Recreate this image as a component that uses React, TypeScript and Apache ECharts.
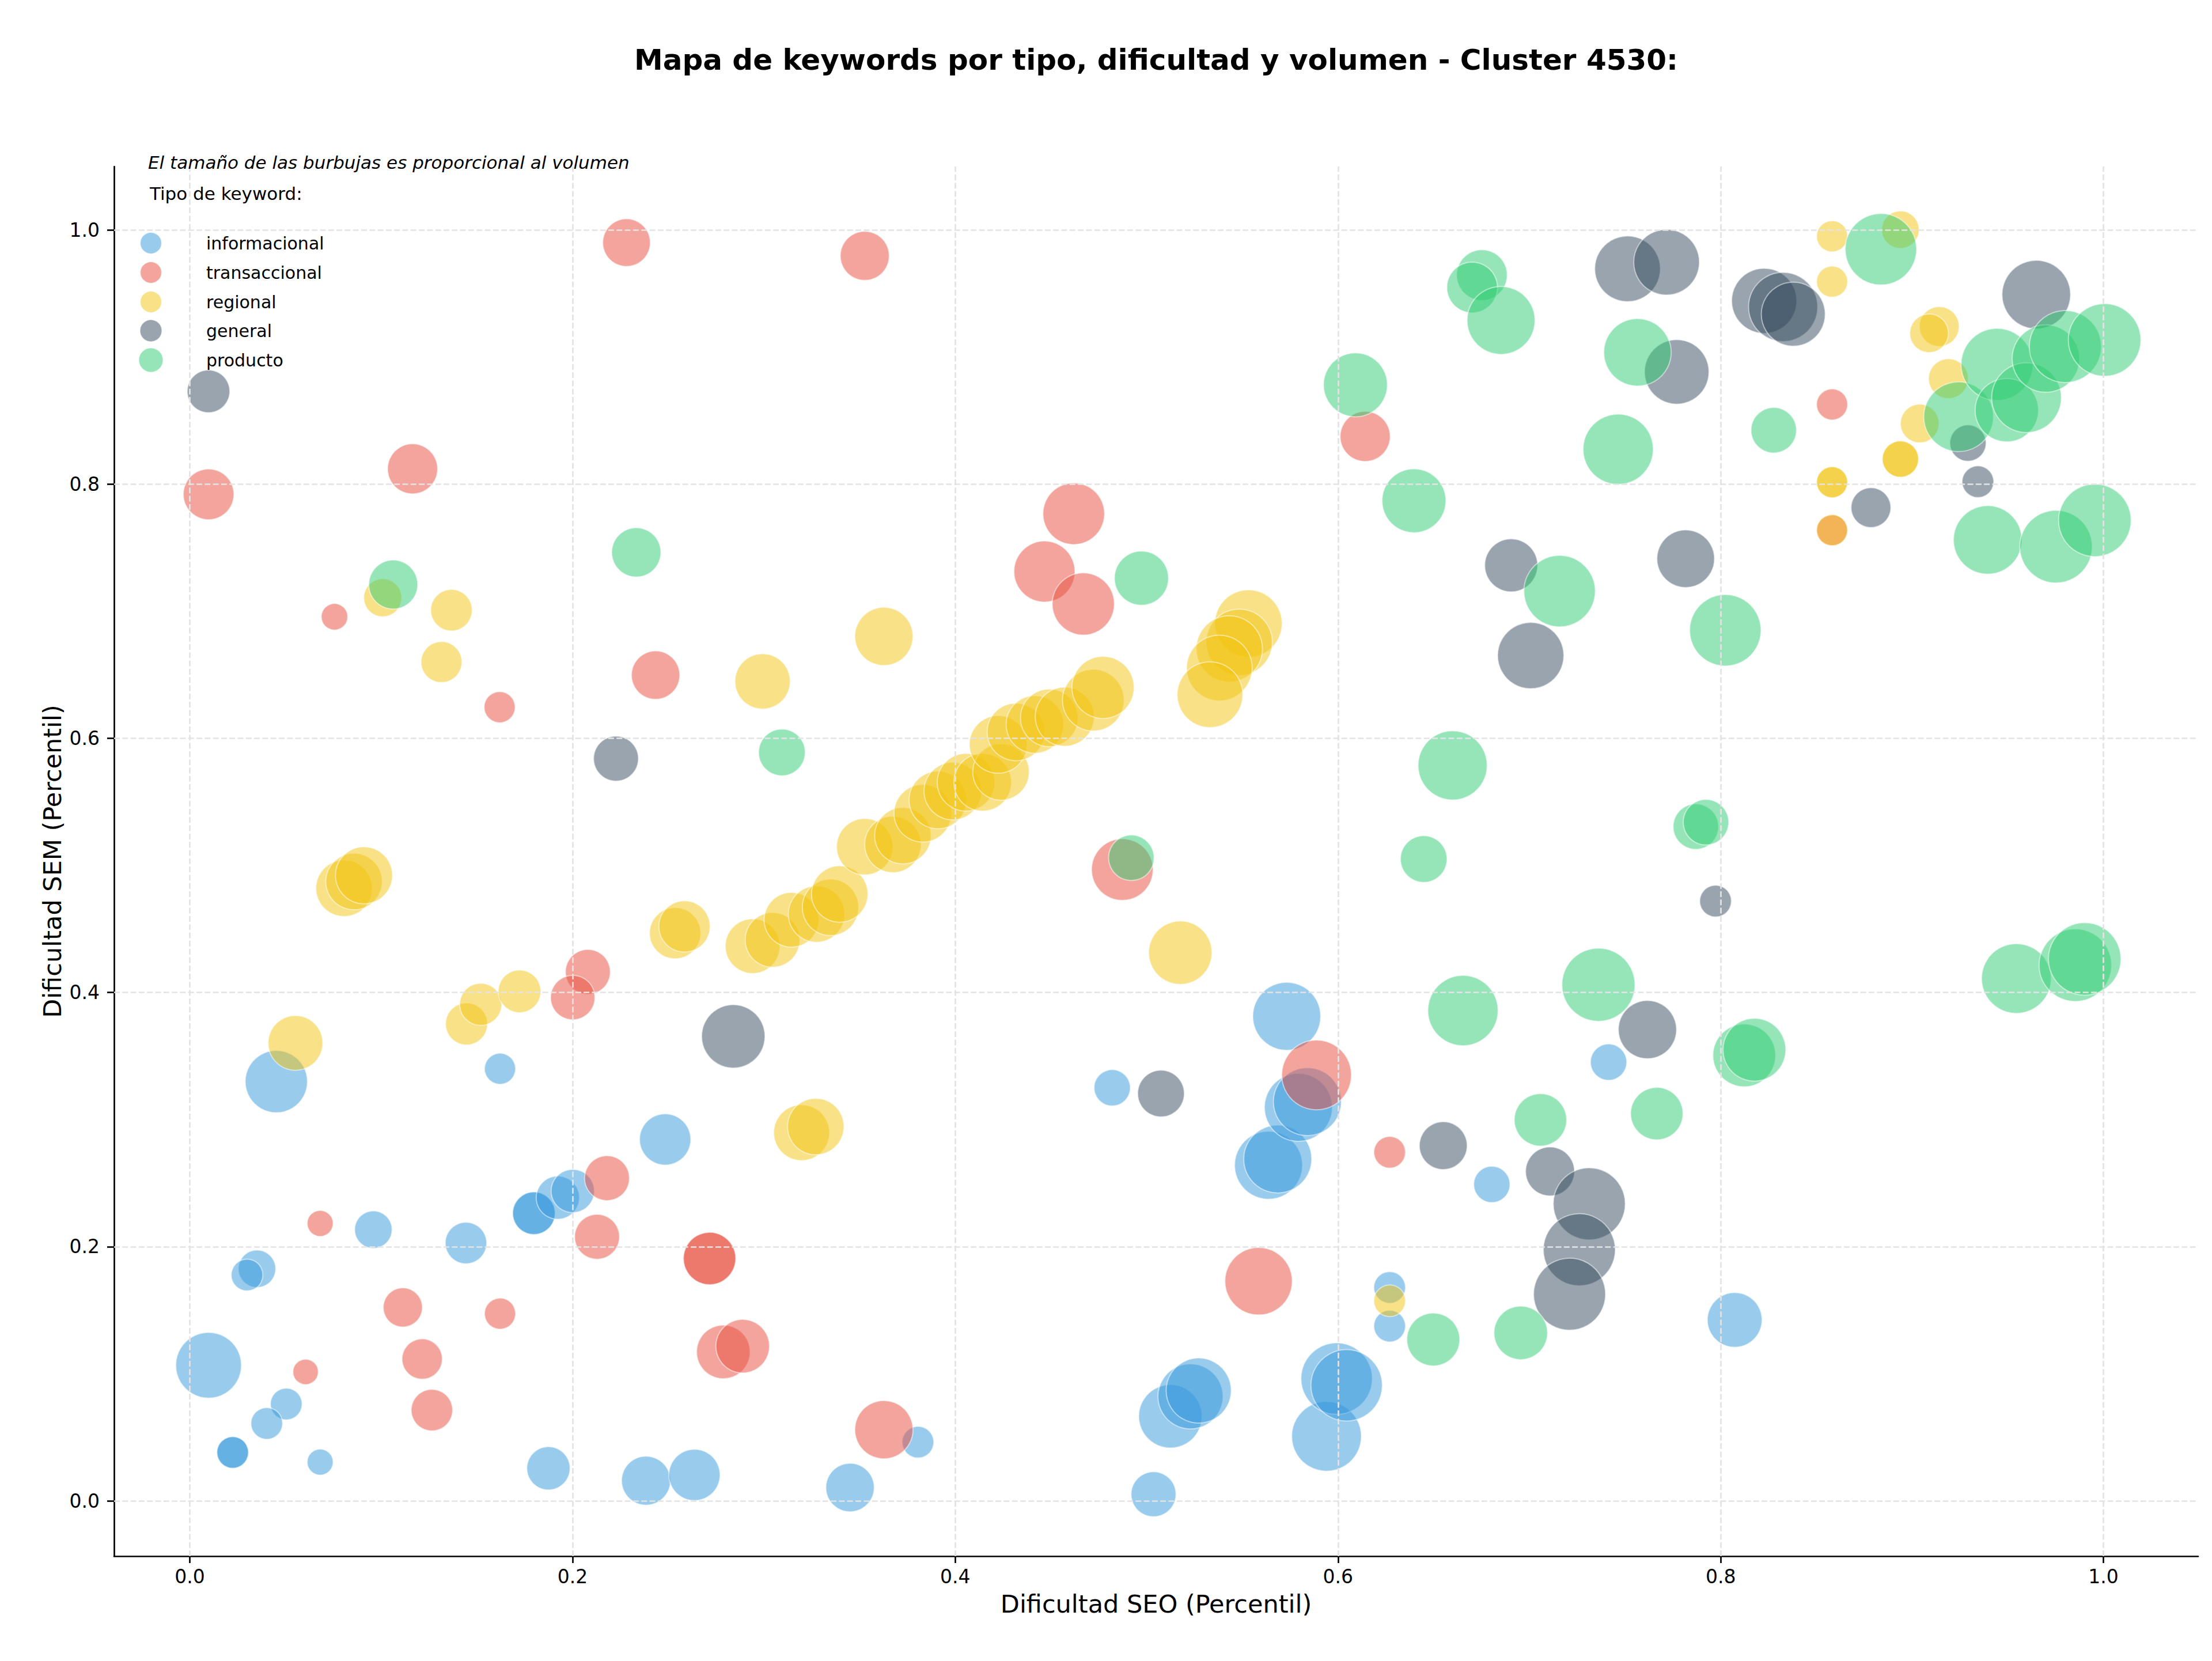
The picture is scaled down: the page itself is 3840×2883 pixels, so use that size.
import React, { useEffect, useRef } from "react";
import * as echarts from "echarts";

const TITLE = "Mapa de keywords por tipo, dificultad y volumen - Cluster 4530:";
const X_LABEL = "Dificultad SEO (Percentil)";
const Y_LABEL = "Dificultad SEM (Percentil)";
const NOTE = "El tamaño de las burbujas es proporcional al volumen";
const LEGEND_TITLE = "Tipo de keyword:";

const TICKS = [0, 0.2, 0.4, 0.6, 0.8, 1.0];

const TYPES = ["informacional", "transaccional", "regional", "general", "producto"];

// Each point: [dificultad SEO, dificultad SEM, volumen]
const informacional = [
  [0.0452, 0.3299, 729], [0.0098, 0.1067, 812], [0.0351, 0.1826, 264], [0.0299, 0.1777, 189],
  [0.0504, 0.0762, 189], [0.0402, 0.0609, 189], [0.0224, 0.0381, 189], [0.0224, 0.0381, 189],
  [0.0681, 0.0305, 127], [0.0959, 0.2134, 264], [0.1443, 0.2029, 324], [0.1621, 0.34, 182],
  [0.1798, 0.2263, 342], [0.1798, 0.2263, 342], [0.1923, 0.2386, 352], [0.2001, 0.2438, 352],
  [0.1874, 0.0256, 352], [0.2384, 0.0159, 452], [0.2637, 0.0204, 495], [0.2484, 0.2844, 495],
  [0.345, 0.0105, 441], [0.3805, 0.0462, 189], [0.482, 0.325, 248], [0.5036, 0.0052, 380],
  [0.5124, 0.0665, 756], [0.5229, 0.0822, 798], [0.5272, 0.0868, 798], [0.5732, 0.3813, 870],
  [0.5637, 0.2641, 870], [0.5685, 0.269, 870], [0.5793, 0.3096, 870], [0.584, 0.3141, 870],
  [0.594, 0.0508, 915], [0.5993, 0.0962, 961], [0.6045, 0.0909, 961], [0.627, 0.1679, 189],
  [0.627, 0.1375, 189], [0.6804, 0.249, 248], [0.7414, 0.3452, 248], [0.8073, 0.1424, 564],
];

const transaccional = [
  [0.0098, 0.792, 484], [0.1164, 0.812, 473], [0.0756, 0.6956, 132], [0.1619, 0.6245, 182],
  [0.2282, 0.99, 427], [0.3527, 0.9796, 452], [0.2434, 0.6497, 441], [0.4619, 0.7767, 716],
  [0.4466, 0.7312, 702], [0.4669, 0.7057, 729], [0.6142, 0.8375, 473], [0.8582, 0.8627, 182],
  [0.8582, 0.7637, 182], [0.208, 0.4162, 380], [0.2001, 0.396, 371], [0.218, 0.2539, 380],
  [0.2128, 0.2078, 380], [0.0681, 0.2183, 127], [0.1113, 0.1522, 289], [0.1621, 0.1473, 182],
  [0.1214, 0.1116, 306], [0.0605, 0.1015, 121], [0.1265, 0.0714, 324], [0.2716, 0.1907, 518],
  [0.2716, 0.1907, 518], [0.2788, 0.1172, 541], [0.2889, 0.1217, 541], [0.3627, 0.056, 638],
  [0.4873, 0.4967, 716], [0.5888, 0.3351, 915], [0.5585, 0.1728, 856], [0.627, 0.2743, 189],
];

const regional = [
  [0.1008, 0.7106, 272], [0.1367, 0.7008, 324], [0.1315, 0.66, 315], [0.2993, 0.6448, 576],
  [0.3627, 0.6802, 638], [0.0806, 0.482, 600], [0.0858, 0.4873, 600], [0.091, 0.4922, 613],
  [0.0552, 0.3603, 564], [0.1446, 0.3753, 333], [0.152, 0.3907, 333], [0.1723, 0.4009, 342],
  [0.2536, 0.4467, 495], [0.2585, 0.452, 495], [0.2941, 0.4365, 564], [0.3045, 0.4414, 564],
  [0.3144, 0.4572, 564], [0.3275, 0.4617, 600], [0.3348, 0.467, 600], [0.3396, 0.4775, 600],
  [0.3527, 0.5147, 600], [0.3674, 0.5165, 600], [0.3726, 0.5234, 600], [0.383, 0.541, 625],
  [0.3909, 0.5515, 625], [0.3987, 0.5585, 625], [0.4056, 0.5654, 625], [0.4143, 0.5654, 625],
  [0.4239, 0.5735, 600], [0.4224, 0.5952, 625], [0.4317, 0.605, 625], [0.4416, 0.6109, 625],
  [0.4491, 0.6161, 625], [0.4572, 0.617, 655], [0.4721, 0.63, 716], [0.4772, 0.64, 729],
  [0.3197, 0.2897, 588], [0.3271, 0.2945, 600], [0.5176, 0.4313, 756], [0.5532, 0.6903, 856],
  [0.5484, 0.6756, 827], [0.5432, 0.6704, 827], [0.538, 0.6553, 812], [0.5331, 0.6343, 812],
  [0.627, 0.1574, 189], [0.8582, 0.995, 182], [0.8939, 1.0002, 264], [0.8582, 0.9593, 182],
  [0.9142, 0.924, 298], [0.9089, 0.9187, 281], [0.919, 0.883, 298], [0.904, 0.8477, 281],
  [0.8939, 0.8197, 248], [0.8939, 0.8197, 248], [0.8582, 0.8015, 182], [0.8582, 0.8015, 182],
  [0.8582, 0.7637, 182],
];

const general = [
  [0.00975, 0.873, 342], [0.2227, 0.584, 380], [0.284, 0.3655, 756], [0.5075, 0.3205, 410],
  [0.655, 0.2795, 431], [0.7108, 0.2592, 452], [0.7313, 0.2337, 977], [0.7261, 0.1976, 977],
  [0.721, 0.1626, 977], [0.7617, 0.3708, 638], [0.7973, 0.4719, 189], [0.7513, 0.9694, 812],
  [0.7717, 0.9746, 812], [0.777, 0.8883, 784], [0.6905, 0.7361, 529], [0.7007, 0.6651, 827],
  [0.7817, 0.7413, 625], [0.8227, 0.9442, 798], [0.8326, 0.9394, 900], [0.8379, 0.9337, 770],
  [0.9649, 0.9491, 885], [0.8785, 0.7815, 298], [0.9344, 0.8019, 189], [0.9292, 0.8323, 248],
];

const producto = [
  [0.1063, 0.721, 452], [0.2333, 0.7463, 457], [0.3094, 0.5889, 410], [0.4973, 0.726, 552],
  [0.492, 0.506, 390], [0.6752, 0.9645, 484], [0.6701, 0.9547, 484], [0.6852, 0.9288, 870],
  [0.6091, 0.8781, 770], [0.6397, 0.7869, 770], [0.7565, 0.9037, 856], [0.7464, 0.8274, 930],
  [0.7158, 0.7158, 961], [0.6599, 0.5787, 900], [0.6448, 0.505, 410], [0.8024, 0.685, 961],
  [0.787, 0.5305, 390], [0.7923, 0.534, 390], [0.8837, 0.9848, 961], [0.8277, 0.8424, 390],
  [0.9243, 0.853, 915], [0.9444, 0.8942, 977], [0.9495, 0.8582, 756], [0.9598, 0.868, 915],
  [0.9699, 0.8988, 856], [0.9801, 0.9082, 977], [1.0006, 0.9134, 992], [0.9395, 0.7561, 885],
  [0.9752, 0.7508, 992], [0.9955, 0.7715, 992], [0.6653, 0.3858, 930], [0.7361, 0.4061, 1008],
  [0.7058, 0.2998, 518], [0.7666, 0.3047, 518], [0.6498, 0.127, 529], [0.6955, 0.1322, 541],
  [0.9545, 0.411, 915], [0.9853, 0.4215, 992], [0.9902, 0.4264, 992], [0.8123, 0.3505, 743],
  [0.8176, 0.355, 743],
];

const SERIES_DATA = [informacional, transaccional, regional, general, producto];

// Styling
const COLORS = ["#3498DB", "#E74C3C", "#F1C40F", "#34495E", "#2ECC71"];
const FILL_ALPHA = 0.5;
const FONT = "DejaVu Sans";
const SIZE_SCALE = 4; // symbol diameter = sqrt(volumen) * SIZE_SCALE

function hexToRgba(hex: string, a: number) {
  const n = parseInt(hex.slice(1), 16);
  return `rgba(${(n >> 16) & 255},${(n >> 8) & 255},${n & 255},${a})`;
}

export default function App() {
  const ref = useRef<HTMLDivElement>(null);

  useEffect(() => {
    if (!ref.current) return;
    const chart = echarts.init(ref.current, null, { renderer: "svg" });

    const gridLeft = 198;
    const gridTop = 289;
    const gridRight = 3816;
    const gridBottom = 2701;

    const legendY = [422, 473, 524, 574, 625];
    const legendR = [18.5, 18.5, 18.5, 19, 21];

    const graphics: any[] = [
      {
        type: "text",
        x: (gridLeft + gridRight) / 2,
        y: 104,
        style: {
          text: TITLE, fontFamily: FONT, fontSize: 50, fontWeight: "bold",
          fill: "#000", align: "center", verticalAlign: "middle",
        },
      },
      {
        type: "text",
        x: (gridLeft + gridRight) / 2,
        y: 2784,
        style: {
          text: X_LABEL, fontFamily: FONT, fontSize: 43,
          fill: "#000", align: "center", verticalAlign: "middle",
        },
      },
      {
        type: "text",
        x: 91,
        y: (gridTop + gridBottom) / 2,
        rotation: Math.PI / 2,
        style: {
          text: Y_LABEL, fontFamily: FONT, fontSize: 43,
          fill: "#000", align: "center", verticalAlign: "middle",
        },
      },
      {
        type: "text",
        x: 257,
        y: 282,
        z: 100,
        style: {
          text: NOTE, fontFamily: FONT, fontSize: 31, fontStyle: "italic",
          fill: "#000", align: "left", verticalAlign: "middle",
        },
      },
      {
        type: "text",
        x: 260,
        y: 336,
        z: 100,
        style: {
          text: LEGEND_TITLE, fontFamily: FONT, fontSize: 31,
          fill: "#000", align: "left", verticalAlign: "middle",
        },
      },
    ];

    TYPES.forEach((name, i) => {
      graphics.push({
        type: "circle",
        z: 100,
        shape: { cx: 262, cy: legendY[i], r: legendR[i] },
        style: { fill: hexToRgba(COLORS[i], FILL_ALPHA), stroke: "rgba(255,255,255,0.5)", lineWidth: 1.5 },
      });
      graphics.push({
        type: "text",
        x: 358,
        y: legendY[i],
        z: 100,
        style: {
          text: name, fontFamily: FONT, fontSize: 30,
          fill: "#000", align: "left", verticalAlign: "middle",
        },
      });
    });

    const gridLineStyle = { color: "#e3e3e3", width: 2.7, type: [10, 4.3] as any };

    const series: any[] = [
      {
        name: "grid",
        type: "scatter",
        data: [],
        z: 1,
        silent: true,
        markLine: {
          silent: true,
          symbol: "none",
          animation: false,
          label: { show: false },
          lineStyle: gridLineStyle,
          data: [
            ...TICKS.map((t) => ({ xAxis: t })),
            ...TICKS.map((t) => ({ yAxis: t })),
          ],
        },
      },
      ...TYPES.map((name, i) => ({
        name,
        type: "scatter",
        z: 2,
        data: SERIES_DATA[i],
        symbol: "circle",
        symbolSize: (v: number[]) => Math.sqrt(v[2]) * SIZE_SCALE,
        itemStyle: {
          color: COLORS[i],
          opacity: FILL_ALPHA,
          borderColor: "#ffffff",
          borderWidth: 2,
        },
        emphasis: { disabled: true },
      })),
    ];

    const axisCommon = {
      type: "value",
      axisLine: { show: true, onZero: false, lineStyle: { color: "#000", width: 2.7 } },
      axisTick: {
        show: true, customValues: TICKS, length: 12, inside: false,
        lineStyle: { color: "#000", width: 2.7 },
      },
      splitLine: { show: false },
    };

    chart.setOption({
      animation: false,
      backgroundColor: "#ffffff",
      textStyle: { fontFamily: FONT },
      grid: {
        left: gridLeft,
        top: gridTop,
        width: gridRight - gridLeft,
        height: gridBottom - gridTop,
        containLabel: false,
      },
      xAxis: {
        ...axisCommon,
        min: -0.0396,
        max: 1.0495,
        axisLabel: {
          customValues: TICKS,
          formatter: (v: number) => v.toFixed(1),
          fontSize: 33, color: "#000", margin: 19, fontFamily: FONT,
        },
      },
      yAxis: {
        ...axisCommon,
        min: -0.0435,
        max: 1.0499,
        axisLabel: {
          customValues: TICKS,
          formatter: (v: number) => v.toFixed(1),
          fontSize: 33, color: "#000", margin: 25, fontFamily: FONT,
        },
      },
      graphic: graphics,
      series,
    });

    return () => chart.dispose();
  }, []);

  return (
    <div
      ref={ref}
      style={{ position: "absolute", left: 0, top: 0, width: 3840, height: 2883, background: "#fff" }}
    />
  );
}
